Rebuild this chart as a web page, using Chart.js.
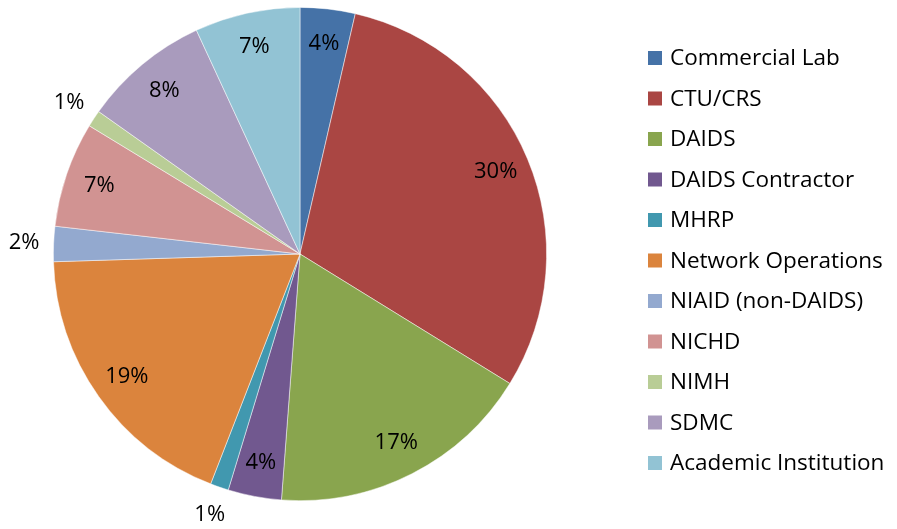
<!DOCTYPE html>
<html lang="en">
<head>
    <meta charset="UTF-8">
    <title>Pie chart</title>
    <script src="https://cdn.jsdelivr.net/npm/chart.js@4.4.0/dist/chart.umd.min.js"></script>
    <style>
        html, body { margin: 0; padding: 0; background: #fff; }
        #wrap { width: 897px; height: 529px; }
    </style>
</head>
<body>
    <div id="wrap"><canvas id="pieChart" width="897" height="529"></canvas></div>

    <script>
        // data (percent of total)
        const categories = ['Commercial Lab', 'CTU/CRS', 'DAIDS', 'DAIDS Contractor', 'MHRP',
            'Network Operations', 'NIAID (non-DAIDS)', 'NICHD', 'NIMH', 'SDMC', 'Academic Institution'];
        const shares = [3.6, 30.2, 17.4, 3.5, 1.2, 18.6, 2.3, 6.9, 1.1, 8.3, 6.9];
        const colors = ['#4572A7', '#AA4643', '#89A54E', '#71588F', '#4198AF', '#DB843D',
            '#93A9CF', '#D19392', '#B9CD96', '#A99BBD', '#92C3D4'];

        const FONT = '"Open Sans", sans-serif';

        // percent labels: inside for big slices, just outside for tiny ones
        const sliceLabels = {
            id: 'sliceLabels',
            afterDatasetsDraw(chart) {
                const ctx = chart.ctx;
                const total = shares.reduce((a, b) => a + b, 0);
                ctx.save();
                ctx.font = '22px ' + FONT;
                ctx.fillStyle = '#000';
                ctx.textAlign = 'center';
                ctx.textBaseline = 'middle';
                chart.getDatasetMeta(0).data.forEach((arc, i) => {
                    const p = arc.getProps(['x', 'y', 'startAngle', 'endAngle', 'outerRadius'], true);
                    const mid = (p.startAngle + p.endAngle) / 2;
                    const pct = shares[i] / total * 100;
                    const r = p.outerRadius * (pct < 3 ? 1.12 : 0.86);
                    ctx.fillText(Math.round(pct) + '%', p.x + Math.cos(mid) * r, p.y + Math.sin(mid) * r);
                });
                ctx.restore();
            }
        };

        // legend on the right, one row per category
        const sideLegend = {
            id: 'sideLegend',
            afterDraw(chart) {
                const ctx = chart.ctx;
                ctx.save();
                ctx.font = '22.5px ' + FONT;
                ctx.textBaseline = 'middle';
                categories.forEach((name, i) => {
                    const y = 58 + i * 40.5;
                    ctx.fillStyle = colors[i];
                    ctx.fillRect(648, y - 7, 14, 14);
                    ctx.fillStyle = '#000';
                    ctx.fillText(name, 670, y + 1);
                });
                ctx.restore();
            }
        };

        new Chart(document.getElementById('pieChart'), {
            type: 'pie',
            data: {
                labels: categories,
                datasets: [{
                    data: shares,
                    backgroundColor: colors,
                    borderColor: 'rgba(255,255,255,0.6)',
                    borderWidth: 0.8
                }]
            },
            options: {
                responsive: false,
                animation: false,
                layout: { padding: { left: 53, right: 350, top: 7, bottom: 28 } },
                plugins: {
                    legend: { display: false },
                    tooltip: { enabled: false }
                }
            },
            plugins: [sliceLabels, sideLegend]
        });
    </script>
</body>
</html>
